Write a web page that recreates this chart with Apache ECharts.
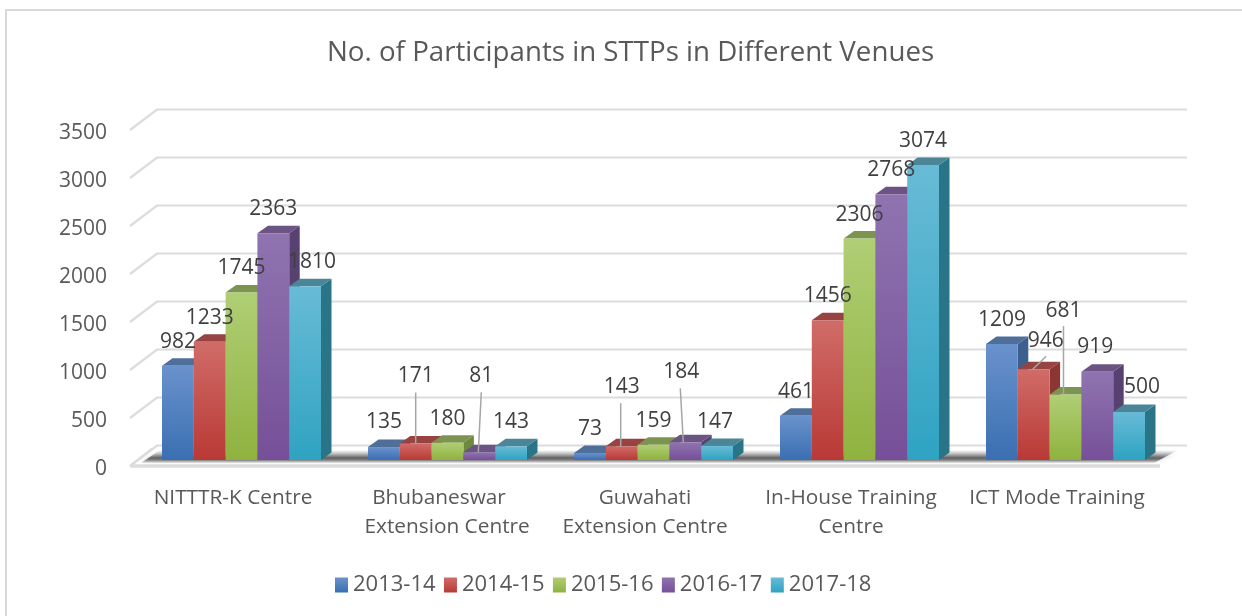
<!DOCTYPE html>
<html>
<head>
<meta charset="utf-8">
<style>html,body{margin:0;padding:0;background:#fff;overflow:hidden}#c{width:1242px;height:616px}</style>
<script src="https://cdn.jsdelivr.net/npm/echarts@6/dist/echarts.min.js"></script>
</head>
<body>
<div id="c"></div>
<script>
const categories = ['NITTTR-K Centre', 'Bhubaneswar\n   Extension Centre', 'Guwahati\nExtension Centre', 'In-House Training\nCentre', 'ICT Mode Training'];
const years = ['2013-14', '2014-15', '2015-16', '2016-17', '2017-18'];
const values2013 = [982, 135, 73, 461, 1209];
const values2014 = [1233, 171, 143, 1456, 946];
const values2015 = [1745, 180, 159, 2306, 681];
const values2016 = [2363, 81, 184, 2768, 919];
const values2017 = [1810, 143, 147, 3074, 500];
const yTicks = [0, 500, 1000, 1500, 2000, 2500, 3000, 3500];

const allValues = [values2013, values2014, values2015, values2016, values2017];

// hand-placed data labels: [series, category, dx, dy, leader start dx, leader start dy, leader end dx] relative to bar top
const movedLabels = [
  [4, 0, 7, -24],
  [0, 1, 0, -25],
  [1, 1, 0, -67.5, 0, -51, 0],
  [3, 1, 2, -76, 2, -60, -1],
  [1, 2, 0, -59, -1, -43, -1],
  [3, 2, -4, -70, -5, -54, -2],
  [4, 2, -2, -24],
  [1, 4, 12, -28.5, 12.5, -13, -1],
  [2, 4, -2, -84, -2, -68.5, -2],
  [3, 4, -2, -25],
  [4, 4, 13, -24.5]
];

const palette = [
  {hi:'#6a92cc', lo:'#3a6fb2', side:'#3d5f8e', top:'#4f6f9b'},
  {hi:'#d06c68', lo:'#b93935', side:'#8a3634', top:'#964341'},
  {hi:'#b0ce75', lo:'#8fb23f', side:'#6d8a3c', top:'#7b9450'},
  {hi:'#8f74b0', lo:'#764f98', side:'#574170', top:'#6b5384'},
  {hi:'#68bbd6', lo:'#2fa3c2', side:'#2a7488', top:'#4a8598'}
];

const front = {left:130, right:1160, top:130, bottom:466};
const wall = {dx:27, dy:-20.5};
const bar = {pitch:31.8, groupShift:-71, baseShift:-6, dx:10.5, dy:-7.5};

function grad(c){
  return {type:'linear', x:0, y:0, x2:0, y2:1, colorStops:[{offset:0,color:c.hi},{offset:1,color:c.lo}]};
}

function renderWall(params, api){
  const p = api.coord([0, api.value(1)]);
  const cs = params.coordSys;
  return {
    type:'polyline', silent:true,
    shape:{points:[[cs.x, p[1]], [cs.x + wall.dx, p[1] + wall.dy], [cs.x + cs.width + wall.dx, p[1] + wall.dy]]},
    style:{stroke:'#dcdcdc', lineWidth:2.2, fill:null},
    z2:1
  };
}

function renderFloor(params){
  const cs = params.coordSys, b = cs.y + cs.height, l = cs.x, r = cs.x + cs.width;
  return {type:'group', silent:true, children:[
    {type:'polygon', z2:2,
     shape:{points:[[l+11, b-3],[r-6, b-3],[r+18, b-16],[l+30, b-16]]},
     style:{shadowBlur:5, shadowColor:'rgba(70,70,70,0.35)', fill:{type:'linear',x:0,y:0,x2:0,y2:1,colorStops:[
       {offset:0,color:'rgba(90,90,90,0)'},{offset:0.3,color:'rgba(70,70,70,0.3)'},
       {offset:0.62,color:'rgba(50,50,50,0.72)'},{offset:0.82,color:'rgba(80,80,80,0.55)'},{offset:1,color:'rgba(160,160,160,0.2)'}]}}},
    {type:'polyline', z2:3, shape:{points:[[l, b],[l+wall.dx-5, b+wall.dy+3]]}, style:{stroke:'#dcdcdc', lineWidth:2.2, fill:null}},
    {type:'line', z2:3, shape:{x1:l, y1:b, x2:r, y2:b}, style:{stroke:'#dcdcdc', lineWidth:3.5}}
  ]};
}

function renderBar(seriesIdx){
  return function(params, api){
    const cat = api.value(0), v = api.value(1);
    const c0 = api.coord([cat, 0]), c1 = api.coord([cat, v]);
    const w = bar.pitch;
    const x = c0[0] + bar.groupShift + seriesIdx * w;
    const yb = c0[1] + bar.baseShift, yt = c1[1] + bar.baseShift;
    const c = palette[seriesIdx];
    const mv = movedLabels.find(m => m[0] === seriesIdx && m[1] === cat);
    const dx = mv ? mv[2] : 0, dy = mv ? mv[3] : -24;
    const kids = [
      {type:'polygon', z2:10, shape:{points:[[x+w,yt],[x+w+bar.dx,yt+bar.dy],[x+w+bar.dx,yb+bar.dy],[x+w,yb]]}, style:{fill:c.side}},
      {type:'polygon', z2:10, shape:{points:[[x,yt],[x+bar.dx,yt+bar.dy],[x+w+bar.dx,yt+bar.dy],[x+w,yt]]}, style:{fill:c.top}},
      {type:'rect', z2:11, shape:{x:x, y:yt, width:w, height:yb-yt}, style:{fill:grad(c)}}
    ];
    if (mv && mv.length > 4) {
      kids.push({type:'line', z2:50, shape:{x1:x+w/2+mv[4], y1:yt+mv[5], x2:x+w/2+mv[6], y2:yt},
                 style:{stroke:'#a6a6a6', lineWidth:1.5}});
    }
    kids.push({type:'text', z2:60, style:{
      text:String(v), x:x+w/2+dx, y:yt+dy, align:'center', verticalAlign:'middle',
      fill:'#404040', font:'21px "Open Sans", sans-serif'
    }});
    return {type:'group', children:kids};
  };
}

const chart = echarts.init(document.getElementById('c'), null, {renderer:'canvas'});
chart.setOption({
  animation:false,
  backgroundColor:'#fff',
  graphic:[{type:'rect', silent:true, z:0, shape:{x:6, y:10, width:1300, height:700},
    style:{fill:'#fff', stroke:'#d9d9d9', lineWidth:2}}],
  title:{text:'No. of Participants in STTPs in Different Venues', left:322, top:34,
    textStyle:{color:'#595959', fontSize:27.7, fontWeight:'normal', fontFamily:'Open Sans'}},
  legend:{bottom:15, left:330, itemWidth:13, itemHeight:15, itemGap:8.4, icon:'rect',
    data:years, textStyle:{color:'#595959', fontSize:22, fontFamily:'Open Sans'}},
  grid:{left:front.left, top:front.top, width:front.right-front.left, height:front.bottom-front.top},
  xAxis:{type:'category', data:categories, axisLine:{show:false}, axisTick:{show:false},
    axisLabel:{color:'#595959', fontSize:20.8, fontFamily:'Open Sans', margin:18, lineHeight:29, interval:0}},
  yAxis:{type:'value', min:0, max:3500, interval:500, axisLine:{show:false}, axisTick:{show:false},
    splitLine:{show:false},
    axisLabel:{color:'#595959', fontSize:21, fontFamily:'Open Sans', margin:23, verticalAlign:'top', lineHeight:6, formatter:v=>String(v)}},
  series:[
    {type:'custom', name:'wall', silent:true, z:2, renderItem:renderWall, data:yTicks.map(t=>[0,t]), encode:{x:0,y:1}, tooltip:{show:false}},
    {type:'custom', name:'floor', silent:true, z:2, renderItem:renderFloor, data:[[0,0]], encode:{x:0,y:1}, tooltip:{show:false}}
  ].concat(years.map((name,i)=>({
    type:'custom', name:name, z:2, renderItem:renderBar(i),
    itemStyle:{color:grad(palette[i])},
    data:allValues[i].map((v,k)=>[k,v]), encode:{x:0,y:1}
  })))
});
</script>
</body>
</html>
